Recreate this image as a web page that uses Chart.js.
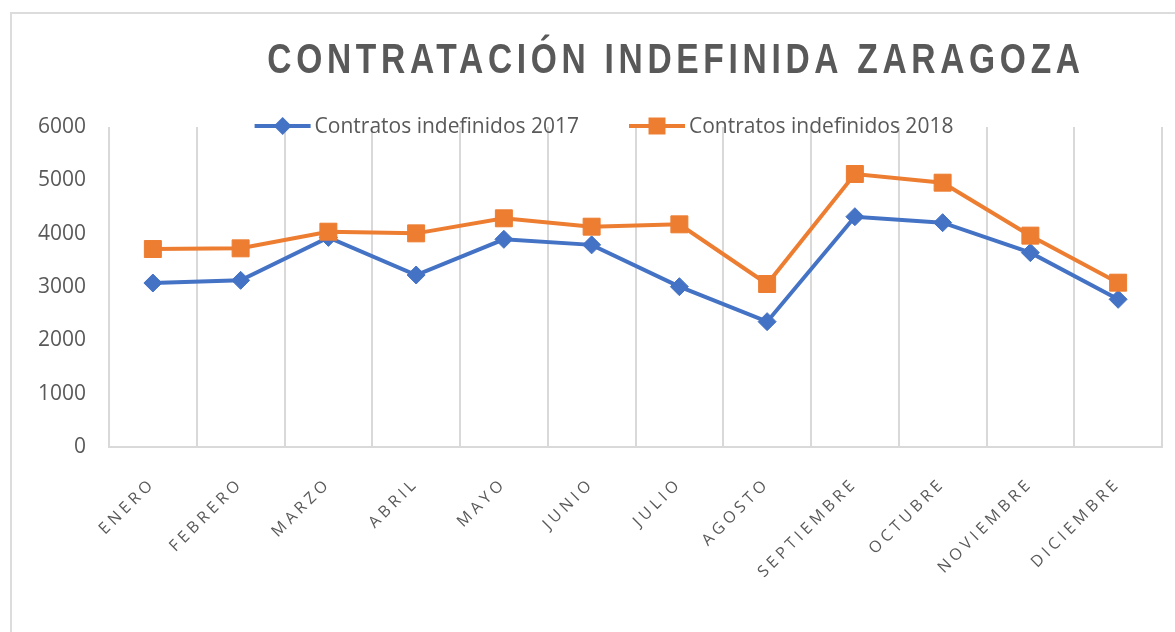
<!DOCTYPE html>
<html lang="es">
<head>
<meta charset="utf-8">
<title>Contratación indefinida Zaragoza</title>
<script src="https://cdn.jsdelivr.net/npm/chart.js@4.4.1/dist/chart.umd.min.js"></script>
<style>
  html, body { margin: 0; padding: 0; background: #fff; overflow: hidden; }
  #marco { position: absolute; left: 10px; top: 12px; width: 1200px; height: 700px; border: 2px solid #dcdcdc; }
  #grafico { position: absolute; left: 0; top: 0; }
</style>
</head>
<body>
<div id="marco"></div>
<canvas id="grafico" width="1175" height="632"></canvas>
<script>
// Datos
const TITULO = 'CONTRATACIÓN INDEFINIDA ZARAGOZA';
const meses = ['ENERO','FEBRERO','MARZO','ABRIL','MAYO','JUNIO','JULIO','AGOSTO','SEPTIEMBRE','OCTUBRE','NOVIEMBRE','DICIEMBRE'];
const contratos2017 = [3075, 3125, 3930, 3225, 3894, 3790, 3006, 2350, 4318, 4206, 3644, 2769];
const contratos2018 = [3712, 3725, 4037, 4006, 4288, 4131, 4175, 3056, 5119, 4956, 3963, 3081];
const ticksY = [0, 1000, 2000, 3000, 4000, 5000, 6000];

const GRIS_TXT = '#595959';
const GRIS_REJ = '#d9d9d9';
const AZUL = '#4472C4';
const NARANJA = '#ED7D31';

// eje de categorías con espaciado entre letras (como en Excel)
class EjeEspaciado extends Chart.CategoryScale {
  drawLabels(area) {
    const ctx = this.ctx;
    ctx.save();
    ctx.letterSpacing = '4px';
    super.drawLabels(area);
    ctx.restore();
  }
}
EjeEspaciado.id = 'ejeEspaciado';
EjeEspaciado.defaults = Chart.CategoryScale.defaults;
Chart.register(EjeEspaciado);

// marcador de leyenda (línea + punto)
function marcador(ctx, ds, x, y) {
  ctx.strokeStyle = ds.borderColor;
  ctx.lineWidth = ds.borderWidth;
  ctx.beginPath(); ctx.moveTo(x - 28, y); ctx.lineTo(x + 28, y); ctx.stroke();
  ctx.fillStyle = ds.pointBackgroundColor;
  const r = ds.pointRadius;
  ctx.beginPath();
  if (ds.pointStyle === 'rect') {
    const s = r * Math.SQRT1_2;
    ctx.rect(x - s, y - s, 2 * s, 2 * s);
  } else {
    ctx.moveTo(x, y - r); ctx.lineTo(x + r, y); ctx.lineTo(x, y + r); ctx.lineTo(x - r, y); ctx.closePath();
  }
  ctx.fill();
}

const tituloYLeyenda = {
  id: 'tituloYLeyenda',
  afterDraw(chart) {
    const ctx = chart.ctx;
    ctx.save();
    // título: negrita estrecha y espaciada
    ctx.font = "bold 43px 'Liberation Sans', Arial, sans-serif";
    ctx.letterSpacing = '6px';
    ctx.fillStyle = GRIS_TXT;
    ctx.textAlign = 'center';
    ctx.textBaseline = 'middle';
    ctx.save();
    ctx.translate(676, 61);
    ctx.scale(0.78, 1);
    ctx.fillText(TITULO, 0, 0);
    ctx.restore();

    // leyenda
    ctx.letterSpacing = '0px';
    ctx.font = "21px 'Open Sans', sans-serif";
    ctx.textAlign = 'left';
    const sets = chart.data.datasets.slice().sort((a, b) => b.order - a.order);
    const anchos = sets.map(ds => ctx.measureText(ds.label).width);
    const total = anchos.reduce((a, b) => a + b, 0) + sets.length * 60 + 50 * (sets.length - 1);
    let x = 604 - total / 2;
    const y = 126;
    sets.forEach((ds, i) => {
      marcador(ctx, ds, x + 28, y);
      ctx.fillStyle = GRIS_TXT;
      ctx.fillText(ds.label, x + 60, y + 1);
      x += 60 + anchos[i] + 50;
    });
    ctx.restore();
  }
};

new Chart(document.getElementById('grafico'), {
  type: 'line',
  data: {
    labels: meses,
    datasets: [
      {
        label: 'Contratos indefinidos 2017',
        data: contratos2017,
        order: 1,
        borderColor: AZUL,
        backgroundColor: AZUL,
        borderWidth: 4,
        pointStyle: 'rectRot',
        pointRadius: 9,
        pointBackgroundColor: AZUL,
        pointBorderColor: AZUL,
        pointBorderWidth: 1,
        tension: 0
      },
      {
        label: 'Contratos indefinidos 2018',
        data: contratos2018,
        order: 0,
        borderColor: NARANJA,
        backgroundColor: NARANJA,
        borderWidth: 4,
        pointStyle: 'rect',
        pointRadius: 12,
        pointBackgroundColor: NARANJA,
        pointBorderColor: NARANJA,
        pointBorderWidth: 1,
        tension: 0
      }
    ]
  },
  options: {
    responsive: false,
    animation: false,
    layout: { padding: { left: 0, right: 12, top: 127, bottom: 0 } },
    plugins: {
      legend: { display: false },
      title: { display: false },
      tooltip: { enabled: false }
    },
    scales: {
      x: {
        type: 'ejeEspaciado',
        offset: true,
        grid: { offset: true, color: GRIS_REJ, lineWidth: 2, drawTicks: false },
        border: { display: true, color: GRIS_REJ, width: 2 },
        ticks: {
          color: GRIS_TXT,
          font: { family: "'Open Sans', sans-serif", size: 16 },
          minRotation: 45,
          maxRotation: 45,
          autoSkip: false,
          padding: 27
        },
        afterFit: (s) => { s.height = 632 - 447; }
      },
      y: {
        min: 0,
        max: 6000,
        afterBuildTicks: (s) => { s.ticks = ticksY.map(v => ({ value: v })); },
        grid: { display: false, drawTicks: false },
        border: { display: false },
        ticks: {
          color: GRIS_TXT,
          font: { family: "'Open Sans', sans-serif", size: 21 },
          padding: 23,
          callback: (v) => String(v)
        },
        afterFit: (s) => { s.width = 109; }
      }
    }
  },
  plugins: [tituloYLeyenda]
});
</script>
</body>
</html>
